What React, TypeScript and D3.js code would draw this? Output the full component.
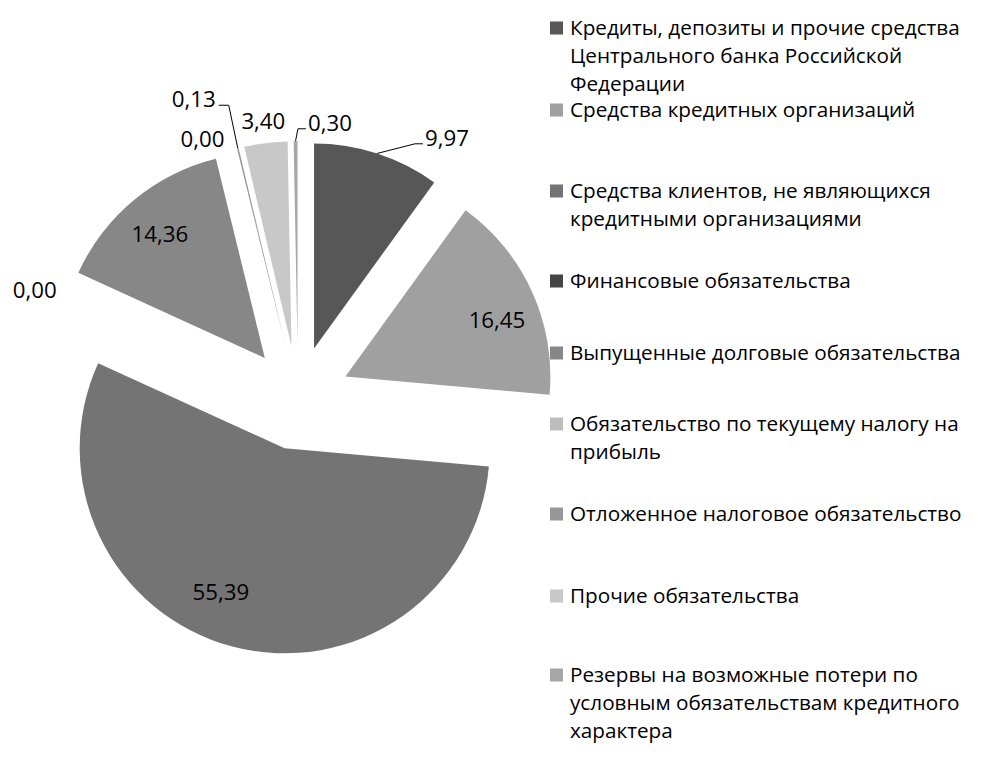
import { useMemo } from "react";
import * as d3 from "d3";

// --- data ---
const categories = [
  "Кредиты, депозиты и прочие средства Центрального банка Российской Федерации",
  "Средства кредитных организаций",
  "Средства клиентов, не являющихся кредитными организациями",
  "Финансовые обязательства",
  "Выпущенные долговые обязательства",
  "Обязательство по текущему налогу на прибыль",
  "Отложенное налоговое обязательство",
  "Прочие обязательства",
  "Резервы на возможные потери по условным обязательствам кредитного характера",
];
const values = [9.97, 16.45, 55.39, 0.0, 14.36, 0.0, 0.13, 3.4, 0.3];
const colors = [
  "#575757",
  "#a0a0a0",
  "#747474",
  "#454545",
  "#878787",
  "#bdbdbd",
  "#979797",
  "#c8c8c8",
  "#a6a6a6",
];
// legend text as wrapped in the picture
const legendLines = [
  ["Кредиты, депозиты и прочие средства", "Центрального банка Российской", "Федерации"],
  ["Средства кредитных организаций"],
  ["Средства клиентов, не являющихся", "кредитными организациями"],
  ["Финансовые обязательства"],
  ["Выпущенные долговые обязательства"],
  ["Обязательство по текущему налогу на", "прибыль"],
  ["Отложенное налоговое обязательство"],
  ["Прочие обязательства"],
  ["Резервы на возможные потери по", "условным обязательствам кредитного", "характера"],
];

// --- layout ---
const width = 987;
const height = 760;
const center = { x: 298, y: 398 };
const radius = 205;
const explode = 0.254; // share of radius
const legendX = 550;
const legendSwatch = 13;
const legendRowY = [28, 110, 191, 281, 353, 424, 514, 596, 675];
const legendLineH = 28;
// data label placement: distance (in radii) from the slice apex, angle nudge (deg), leader line
const labelLayout = [
  { k: 1.215, nudge: 14.3, leader: true },
  { k: 0.789, nudge: 4.1, leader: false },
  { k: 0.767, nudge: 9.1, leader: false },
  { k: 1.134, nudge: -2.7, leader: false },
  { k: 0.792, nudge: -0.6, leader: false },
  { k: 1.097, nudge: -7.9, leader: false },
  { k: 1.291, nudge: -6.8, leader: true },
  { k: 1.11, nudge: 0.1, leader: false },
  { k: 1.1, nudge: 8.8, leader: true },
];

const FONT = "'Open Sans', sans-serif";

const measure = (text: string, size: number) => {
  const ctx = document.createElement("canvas").getContext("2d");
  ctx.font = `${size}px "Open Sans"`;
  return ctx.measureText(text).width;
};

const fmt = (v: number) => d3.format(".2f")(v).replace(".", ",");

const dir = (a: number) => [Math.sin(a), -Math.cos(a)];

const App = () => {
  const legendSize = useMemo(() => (20 * 390) / measure(legendLines[0][0], 20), []);
  const labelSize = useMemo(() => (20 * 44) / measure("0,00", 20), []);

  const arcs = d3
    .pie<number>()
    .sort(null)
    .value((d) => d)
    .startAngle(0)
    .endAngle(2 * Math.PI)(values);

  const arc = d3.arc<d3.PieArcDatum<number>>().innerRadius(0).outerRadius(radius);

  return (
    <svg
      width={width}
      height={height}
      style={{ position: "absolute", left: 0, top: 0, background: "#fff" }}
      fontFamily={FONT}
    >
      <g transform={`translate(${center.x},${center.y})`}>
        {arcs.map((a, i) => {
          if (a.value <= 0) return null;
          const mid = (a.startAngle + a.endAngle) / 2;
          const [dx, dy] = dir(mid);
          return (
            <path
              key={i}
              d={arc(a)}
              fill={colors[i]}
              transform={`translate(${dx * explode * radius},${dy * explode * radius})`}
            />
          );
        })}
        {arcs.map((a, i) => {
          const mid = (a.startAngle + a.endAngle) / 2;
          const [ex, ey] = dir(mid);
          const ax = ex * explode * radius;
          const ay = ey * explode * radius;
          const lay = labelLayout[i];
          const [lx0, ly0] = dir(mid + (lay.nudge * Math.PI) / 180);
          const lx = ax + lx0 * lay.k * radius;
          const ly = ay + ly0 * lay.k * radius;
          const txt = fmt(a.value);
          const w = measure(txt, labelSize);
          let leader = null;
          if (lay.leader) {
            const sx = ax + ex * radius;
            const sy = ay + ey * radius;
            const right = lx > sx;
            const edge = right ? lx - w / 2 - 2 : lx + w / 2 + 3;
            const elbow = right ? edge - 8 : edge + 10;
            const yy = ly + 6;
            leader = (
              <polyline
                points={`${sx},${sy} ${elbow},${yy} ${edge},${yy}`}
                fill="none"
                stroke="#000"
                strokeWidth={1}
              />
            );
          }
          return (
            <g key={i}>
              {leader}
              <text
                x={lx}
                y={ly}
                dy="0.36em"
                textAnchor="middle"
                fontSize={labelSize}
                fill="#000"
              >
                {txt}
              </text>
            </g>
          );
        })}
      </g>
      <g>
        {legendLines.map((lines, i) => (
          <g key={categories[i]} transform={`translate(${legendX},${legendRowY[i]})`}>
            <rect
              x={0}
              y={-legendSwatch / 2}
              width={legendSwatch}
              height={legendSwatch}
              fill={colors[i]}
            />
            {lines.map((ln, j) => (
              <text
                key={j}
                x={20}
                y={j * legendLineH}
                dy="0.36em"
                fontSize={legendSize}
                fill="#000"
              >
                {ln}
              </text>
            ))}
          </g>
        ))}
      </g>
    </svg>
  );
};

export default App;
